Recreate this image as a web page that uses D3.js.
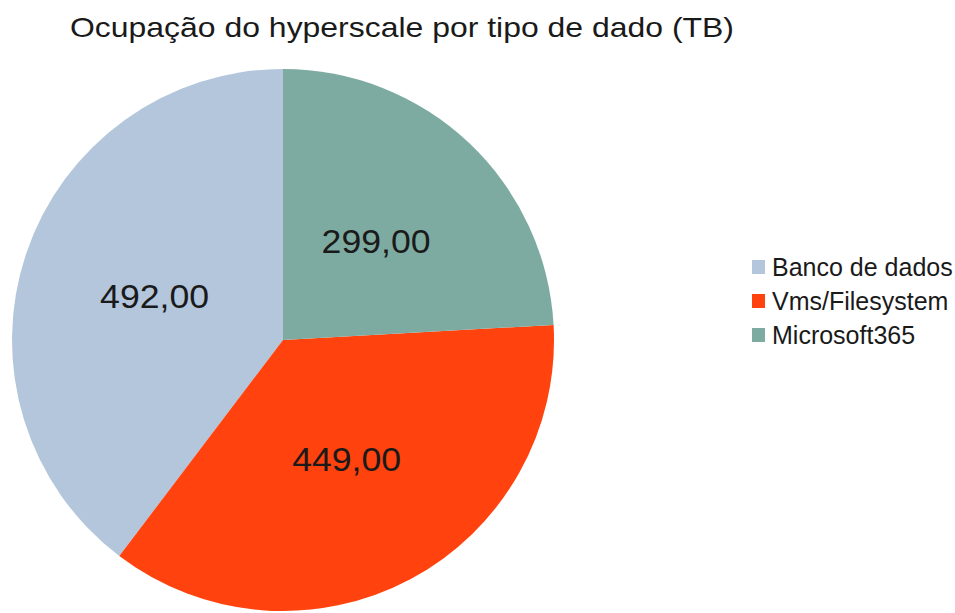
<!DOCTYPE html>
<html>
<head>
<meta charset="utf-8">
<script src="https://cdn.jsdelivr.net/npm/d3@7"></script>
<style>
  body { margin: 0; background: #fff; }
  text { font-family: "Liberation Sans", Arial, sans-serif; fill: #1a1a1a; }
</style>
</head>
<body>
<svg id="chart"></svg>
<script>
// data
const categories = ['Banco de dados', 'Vms/Filesystem', 'Microsoft365'];
const values = [492, 449, 299];
const labels = ['492,00', '449,00', '299,00'];
const colors = ['#b3c6dc', '#ff420e', '#7eaba1'];
const title = 'Ocupação do hyperscale por tipo de dado (TB)';

const width = 955, height = 613;
const cx = 283, cy = 340, radius = 271;

const svg = d3.select('#chart')
    .attr('width', width)
    .attr('height', height);

svg.append('text')
    .attr('x', 70)
    .attr('y', 37)
    .attr('font-size', 28)
    .attr('textLength', 664)
    .attr('lengthAdjust', 'spacingAndGlyphs')
    .text(title);

// slices go counter-clockwise from 12 o'clock, in legend order
const pie = d3.pie()
    .sort(null)
    .startAngle(0)
    .endAngle(-2 * Math.PI);

const arcs = pie(values.map((v, i) => ({value: v, i})).map(d => d.value))
    .map((a, i) => Object.assign(a, {i}));

const arc = d3.arc().innerRadius(0).outerRadius(radius);

const g = svg.append('g')
    .attr('transform', `translate(${cx},${cy})`);

g.selectAll('.slice')
    .data(arcs)
  .join('path')
    .attr('class', 'slice')
    .attr('d', arc)
    .attr('fill', d => colors[d.i]);

g.selectAll('.label')
    .data(arcs)
  .join('text')
    .attr('class', 'label')
    .attr('transform', d => `translate(${arc.centroid(d)})`)
    .attr('dy', '0.35em')
    .attr('text-anchor', 'middle')
    .attr('font-size', 33)
    .attr('textLength', 109)
    .attr('lengthAdjust', 'spacingAndGlyphs')
    .text(d => labels[d.i]);

// legend
const legendY = d3.scalePoint()
    .domain(categories)
    .range([267, 335]);

const legend = svg.append('g');

legend.selectAll('rect')
    .data(categories)
  .join('rect')
    .attr('x', 752)
    .attr('y', d => legendY(d) - 7)
    .attr('width', 13)
    .attr('height', 14)
    .attr('fill', (d, i) => colors[i]);

legend.selectAll('text')
    .data(categories)
  .join('text')
    .attr('x', 772)
    .attr('y', d => legendY(d))
    .attr('dy', '0.35em')
    .attr('font-size', 25)
    .text(d => d);
</script>
</body>
</html>
